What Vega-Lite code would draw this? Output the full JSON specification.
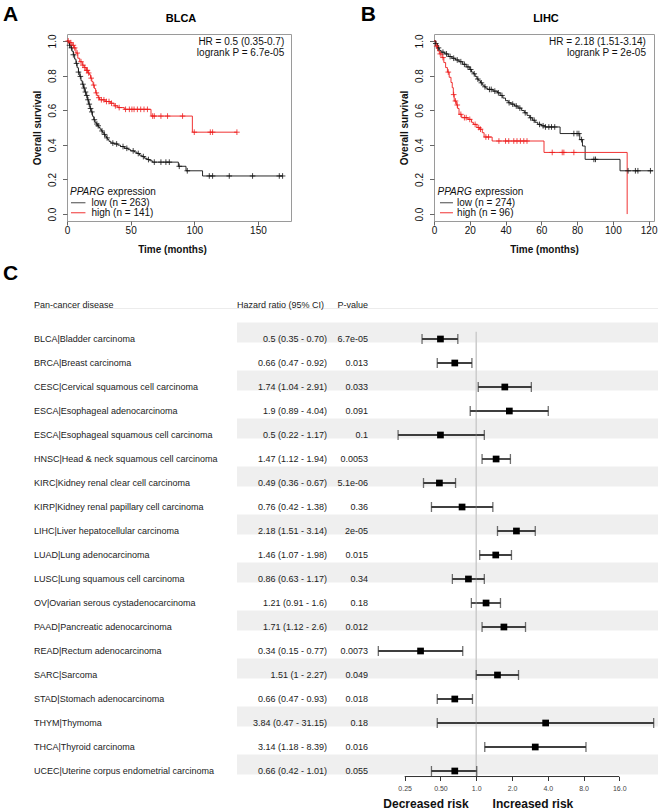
{
  "$schema": "https://vega.github.io/schema/vega-lite/v6.json",
  "background": "white",
  "padding": {"left": 2, "top": 3, "right": 0, "bottom": 0},
  "config": {
    "font": "Liberation Sans",
    "view": {"stroke": null},
    "axis": {"grid": false},
    "text": {"font": "Liberation Sans"}
  },
  "datasets": {
    "km": [
      {"p":"A","g":"low","t":0,"s":1},{"p":"A","g":"low","t":1,"s":0.99},{"p":"A","g":"low","t":2,"s":0.975},{"p":"A","g":"low","t":3,"s":0.96},{"p":"A","g":"low","t":4,"s":0.94},{"p":"A","g":"low","t":5,"s":0.92},{"p":"A","g":"low","t":6,"s":0.895},{"p":"A","g":"low","t":7,"s":0.87},{"p":"A","g":"low","t":8,"s":0.845},{"p":"A","g":"low","t":9,"s":0.82},{"p":"A","g":"low","t":10,"s":0.795},{"p":"A","g":"low","t":11,"s":0.77},{"p":"A","g":"low","t":12,"s":0.75},{"p":"A","g":"low","t":13,"s":0.728},{"p":"A","g":"low","t":14,"s":0.705},{"p":"A","g":"low","t":15,"s":0.685},{"p":"A","g":"low","t":16,"s":0.66},{"p":"A","g":"low","t":17,"s":0.635},{"p":"A","g":"low","t":18,"s":0.61},{"p":"A","g":"low","t":19,"s":0.59},{"p":"A","g":"low","t":20,"s":0.565},{"p":"A","g":"low","t":21,"s":0.545},{"p":"A","g":"low","t":22,"s":0.53},{"p":"A","g":"low","t":23,"s":0.52},{"p":"A","g":"low","t":24,"s":0.51},{"p":"A","g":"low","t":25,"s":0.5},{"p":"A","g":"low","t":26,"s":0.49},{"p":"A","g":"low","t":27,"s":0.48},{"p":"A","g":"low","t":28,"s":0.47},{"p":"A","g":"low","t":29,"s":0.46},{"p":"A","g":"low","t":30,"s":0.45},{"p":"A","g":"low","t":31,"s":0.44},{"p":"A","g":"low","t":32,"s":0.43},{"p":"A","g":"low","t":33,"s":0.42},{"p":"A","g":"low","t":34.5,"s":0.41},{"p":"A","g":"low","t":37,"s":0.405},{"p":"A","g":"low","t":40,"s":0.398},{"p":"A","g":"low","t":42,"s":0.39},{"p":"A","g":"low","t":45,"s":0.38},{"p":"A","g":"low","t":48,"s":0.372},{"p":"A","g":"low","t":50,"s":0.365},{"p":"A","g":"low","t":53,"s":0.358},{"p":"A","g":"low","t":55,"s":0.35},{"p":"A","g":"low","t":57,"s":0.34},{"p":"A","g":"low","t":59,"s":0.332},{"p":"A","g":"low","t":61,"s":0.322},{"p":"A","g":"low","t":63,"s":0.315},{"p":"A","g":"low","t":65,"s":0.308},{"p":"A","g":"low","t":67,"s":0.3},{"p":"A","g":"low","t":87.5,"s":0.276},{"p":"A","g":"low","t":93.5,"s":0.25},{"p":"A","g":"low","t":106.5,"s":0.22},{"p":"A","g":"low","t":169.5,"s":0.22},
      {"p":"A","g":"high","t":0,"s":1},{"p":"A","g":"high","t":2,"s":0.99},{"p":"A","g":"high","t":4,"s":0.975},{"p":"A","g":"high","t":5.5,"s":0.96},{"p":"A","g":"high","t":7,"s":0.93},{"p":"A","g":"high","t":8.5,"s":0.9},{"p":"A","g":"high","t":10,"s":0.88},{"p":"A","g":"high","t":12,"s":0.86},{"p":"A","g":"high","t":13.5,"s":0.846},{"p":"A","g":"high","t":15,"s":0.83},{"p":"A","g":"high","t":16.5,"s":0.815},{"p":"A","g":"high","t":17.5,"s":0.805},{"p":"A","g":"high","t":18.5,"s":0.785},{"p":"A","g":"high","t":19.5,"s":0.765},{"p":"A","g":"high","t":20.5,"s":0.745},{"p":"A","g":"high","t":21.5,"s":0.725},{"p":"A","g":"high","t":22.5,"s":0.7},{"p":"A","g":"high","t":23.5,"s":0.685},{"p":"A","g":"high","t":24.5,"s":0.672},{"p":"A","g":"high","t":25.5,"s":0.66},{"p":"A","g":"high","t":30,"s":0.65},{"p":"A","g":"high","t":34,"s":0.64},{"p":"A","g":"high","t":37,"s":0.625},{"p":"A","g":"high","t":40,"s":0.615},{"p":"A","g":"high","t":45,"s":0.605},{"p":"A","g":"high","t":66,"s":0.566},{"p":"A","g":"high","t":98.5,"s":0.473},{"p":"A","g":"high","t":133.5,"s":0.473},
      {"p":"B","g":"low","t":0,"s":1},{"p":"B","g":"low","t":1,"s":0.985},{"p":"B","g":"low","t":2,"s":0.96},{"p":"B","g":"low","t":3,"s":0.945},{"p":"B","g":"low","t":4,"s":0.935},{"p":"B","g":"low","t":6,"s":0.925},{"p":"B","g":"low","t":8,"s":0.91},{"p":"B","g":"low","t":10,"s":0.9},{"p":"B","g":"low","t":12,"s":0.89},{"p":"B","g":"low","t":14,"s":0.88},{"p":"B","g":"low","t":16,"s":0.865},{"p":"B","g":"low","t":18,"s":0.85},{"p":"B","g":"low","t":20,"s":0.835},{"p":"B","g":"low","t":21,"s":0.82},{"p":"B","g":"low","t":22,"s":0.81},{"p":"B","g":"low","t":23,"s":0.795},{"p":"B","g":"low","t":24,"s":0.78},{"p":"B","g":"low","t":25,"s":0.77},{"p":"B","g":"low","t":26,"s":0.758},{"p":"B","g":"low","t":27,"s":0.745},{"p":"B","g":"low","t":28,"s":0.735},{"p":"B","g":"low","t":29,"s":0.727},{"p":"B","g":"low","t":30,"s":0.72},{"p":"B","g":"low","t":33,"s":0.71},{"p":"B","g":"low","t":35.5,"s":0.7},{"p":"B","g":"low","t":37,"s":0.685},{"p":"B","g":"low","t":38.5,"s":0.67},{"p":"B","g":"low","t":40,"s":0.655},{"p":"B","g":"low","t":41.5,"s":0.643},{"p":"B","g":"low","t":43,"s":0.635},{"p":"B","g":"low","t":45,"s":0.624},{"p":"B","g":"low","t":47,"s":0.612},{"p":"B","g":"low","t":49,"s":0.598},{"p":"B","g":"low","t":50.5,"s":0.585},{"p":"B","g":"low","t":52,"s":0.57},{"p":"B","g":"low","t":53.5,"s":0.556},{"p":"B","g":"low","t":55,"s":0.542},{"p":"B","g":"low","t":56.5,"s":0.53},{"p":"B","g":"low","t":58,"s":0.518},{"p":"B","g":"low","t":60,"s":0.51},{"p":"B","g":"low","t":62,"s":0.503},{"p":"B","g":"low","t":70.5,"s":0.465},{"p":"B","g":"low","t":81.5,"s":0.43},{"p":"B","g":"low","t":83,"s":0.393},{"p":"B","g":"low","t":84.5,"s":0.316},{"p":"B","g":"low","t":104,"s":0.25},{"p":"B","g":"low","t":122.5,"s":0.25},
      {"p":"B","g":"high","t":0,"s":1},{"p":"B","g":"high","t":1,"s":0.97},{"p":"B","g":"high","t":2,"s":0.942},{"p":"B","g":"high","t":3,"s":0.925},{"p":"B","g":"high","t":4.5,"s":0.904},{"p":"B","g":"high","t":5.5,"s":0.875},{"p":"B","g":"high","t":6.5,"s":0.846},{"p":"B","g":"high","t":7.5,"s":0.82},{"p":"B","g":"high","t":8.5,"s":0.79},{"p":"B","g":"high","t":9.5,"s":0.76},{"p":"B","g":"high","t":10.2,"s":0.73},{"p":"B","g":"high","t":10.8,"s":0.69},{"p":"B","g":"high","t":11.3,"s":0.653},{"p":"B","g":"high","t":12.5,"s":0.63},{"p":"B","g":"high","t":13.2,"s":0.61},{"p":"B","g":"high","t":14,"s":0.576},{"p":"B","g":"high","t":15.5,"s":0.557},{"p":"B","g":"high","t":19,"s":0.547},{"p":"B","g":"high","t":21,"s":0.53},{"p":"B","g":"high","t":22,"s":0.518},{"p":"B","g":"high","t":24,"s":0.5},{"p":"B","g":"high","t":25.5,"s":0.49},{"p":"B","g":"high","t":27,"s":0.47},{"p":"B","g":"high","t":28,"s":0.445},{"p":"B","g":"high","t":32.5,"s":0.422},{"p":"B","g":"high","t":61.5,"s":0.356},{"p":"B","g":"high","t":108,"s":0}
    ],
    "cens": [
      {"p":"A","g":"low","t":2,"s":0.975},{"p":"A","g":"low","t":3.5,"s":0.96},{"p":"A","g":"low","t":5,"s":0.92},{"p":"A","g":"low","t":7.5,"s":0.87},{"p":"A","g":"low","t":9,"s":0.82},{"p":"A","g":"low","t":10.5,"s":0.795},{"p":"A","g":"low","t":12.5,"s":0.75},{"p":"A","g":"low","t":13.5,"s":0.728},{"p":"A","g":"low","t":14.5,"s":0.705},{"p":"A","g":"low","t":15.5,"s":0.685},{"p":"A","g":"low","t":16.5,"s":0.66},{"p":"A","g":"low","t":17.5,"s":0.635},{"p":"A","g":"low","t":18.5,"s":0.61},{"p":"A","g":"low","t":19.5,"s":0.59},{"p":"A","g":"low","t":21.5,"s":0.545},{"p":"A","g":"low","t":23.5,"s":0.52},{"p":"A","g":"low","t":24.5,"s":0.51},{"p":"A","g":"low","t":27.5,"s":0.48},{"p":"A","g":"low","t":29.5,"s":0.46},{"p":"A","g":"low","t":31.5,"s":0.44},{"p":"A","g":"low","t":36,"s":0.41},{"p":"A","g":"low","t":39,"s":0.405},{"p":"A","g":"low","t":44,"s":0.39},{"p":"A","g":"low","t":47,"s":0.38},{"p":"A","g":"low","t":52,"s":0.365},{"p":"A","g":"low","t":56,"s":0.35},{"p":"A","g":"low","t":60,"s":0.332},{"p":"A","g":"low","t":64,"s":0.315},{"p":"A","g":"low","t":68.6,"s":0.3},{"p":"A","g":"low","t":73.8,"s":0.3},{"p":"A","g":"low","t":77.7,"s":0.3},{"p":"A","g":"low","t":80.4,"s":0.3},{"p":"A","g":"low","t":88.2,"s":0.276},{"p":"A","g":"low","t":94.5,"s":0.25},{"p":"A","g":"low","t":111.8,"s":0.22},{"p":"A","g":"low","t":114.4,"s":0.22},{"p":"A","g":"low","t":127.5,"s":0.22},{"p":"A","g":"low","t":145.8,"s":0.22},{"p":"A","g":"low","t":166.8,"s":0.22},{"p":"A","g":"low","t":169.4,"s":0.22},
      {"p":"A","g":"high","t":1,"s":1},{"p":"A","g":"high","t":3,"s":0.99},{"p":"A","g":"high","t":5,"s":0.975},{"p":"A","g":"high","t":6,"s":0.96},{"p":"A","g":"high","t":8,"s":0.93},{"p":"A","g":"high","t":11,"s":0.88},{"p":"A","g":"high","t":12.5,"s":0.86},{"p":"A","g":"high","t":14,"s":0.846},{"p":"A","g":"high","t":15.5,"s":0.83},{"p":"A","g":"high","t":16,"s":0.83},{"p":"A","g":"high","t":17,"s":0.815},{"p":"A","g":"high","t":19,"s":0.785},{"p":"A","g":"high","t":21,"s":0.745},{"p":"A","g":"high","t":23,"s":0.7},{"p":"A","g":"high","t":25,"s":0.672},{"p":"A","g":"high","t":27,"s":0.66},{"p":"A","g":"high","t":29,"s":0.66},{"p":"A","g":"high","t":31,"s":0.65},{"p":"A","g":"high","t":33,"s":0.65},{"p":"A","g":"high","t":35,"s":0.64},{"p":"A","g":"high","t":38,"s":0.625},{"p":"A","g":"high","t":41,"s":0.615},{"p":"A","g":"high","t":46,"s":0.605},{"p":"A","g":"high","t":49,"s":0.605},{"p":"A","g":"high","t":51,"s":0.605},{"p":"A","g":"high","t":52.7,"s":0.605},{"p":"A","g":"high","t":55.3,"s":0.605},{"p":"A","g":"high","t":57.9,"s":0.605},{"p":"A","g":"high","t":60.5,"s":0.605},{"p":"A","g":"high","t":63.2,"s":0.605},{"p":"A","g":"high","t":67.3,"s":0.566},{"p":"A","g":"high","t":68.6,"s":0.566},{"p":"A","g":"high","t":73.8,"s":0.566},{"p":"A","g":"high","t":79,"s":0.566},{"p":"A","g":"high","t":90.8,"s":0.566},{"p":"A","g":"high","t":100,"s":0.473},{"p":"A","g":"high","t":112.6,"s":0.473},{"p":"A","g":"high","t":114.4,"s":0.473},{"p":"A","g":"high","t":133.5,"s":0.473},
      {"p":"B","g":"low","t":1,"s":0.985},{"p":"B","g":"low","t":2.5,"s":0.96},{"p":"B","g":"low","t":5,"s":0.935},{"p":"B","g":"low","t":7,"s":0.925},{"p":"B","g":"low","t":9,"s":0.91},{"p":"B","g":"low","t":11,"s":0.9},{"p":"B","g":"low","t":13,"s":0.89},{"p":"B","g":"low","t":15,"s":0.88},{"p":"B","g":"low","t":17,"s":0.865},{"p":"B","g":"low","t":19,"s":0.85},{"p":"B","g":"low","t":20.5,"s":0.835},{"p":"B","g":"low","t":22.5,"s":0.81},{"p":"B","g":"low","t":24.5,"s":0.78},{"p":"B","g":"low","t":26.5,"s":0.758},{"p":"B","g":"low","t":28.5,"s":0.735},{"p":"B","g":"low","t":31,"s":0.72},{"p":"B","g":"low","t":32,"s":0.72},{"p":"B","g":"low","t":34,"s":0.71},{"p":"B","g":"low","t":36,"s":0.7},{"p":"B","g":"low","t":38,"s":0.685},{"p":"B","g":"low","t":42,"s":0.643},{"p":"B","g":"low","t":44,"s":0.635},{"p":"B","g":"low","t":46,"s":0.624},{"p":"B","g":"low","t":48,"s":0.612},{"p":"B","g":"low","t":51,"s":0.585},{"p":"B","g":"low","t":54,"s":0.556},{"p":"B","g":"low","t":56,"s":0.542},{"p":"B","g":"low","t":59,"s":0.518},{"p":"B","g":"low","t":61,"s":0.51},{"p":"B","g":"low","t":62.3,"s":0.503},{"p":"B","g":"low","t":64.2,"s":0.503},{"p":"B","g":"low","t":65.7,"s":0.503},{"p":"B","g":"low","t":67.5,"s":0.503},{"p":"B","g":"low","t":78.2,"s":0.465},{"p":"B","g":"low","t":80,"s":0.465},{"p":"B","g":"low","t":81,"s":0.465},{"p":"B","g":"low","t":82.5,"s":0.43},{"p":"B","g":"low","t":89.4,"s":0.316},{"p":"B","g":"low","t":90.3,"s":0.316},{"p":"B","g":"low","t":108.5,"s":0.25},{"p":"B","g":"low","t":112.6,"s":0.25},{"p":"B","g":"low","t":114,"s":0.25},{"p":"B","g":"low","t":121,"s":0.25},
      {"p":"B","g":"high","t":1.5,"s":0.97},{"p":"B","g":"high","t":3.5,"s":0.925},{"p":"B","g":"high","t":5,"s":0.904},{"p":"B","g":"high","t":8,"s":0.82},{"p":"B","g":"high","t":11,"s":0.69},{"p":"B","g":"high","t":12,"s":0.653},{"p":"B","g":"high","t":13,"s":0.63},{"p":"B","g":"high","t":15,"s":0.576},{"p":"B","g":"high","t":17,"s":0.557},{"p":"B","g":"high","t":18,"s":0.557},{"p":"B","g":"high","t":20,"s":0.547},{"p":"B","g":"high","t":23,"s":0.518},{"p":"B","g":"high","t":25,"s":0.5},{"p":"B","g":"high","t":26,"s":0.49},{"p":"B","g":"high","t":29,"s":0.445},{"p":"B","g":"high","t":30.5,"s":0.445},{"p":"B","g":"high","t":36.3,"s":0.422},{"p":"B","g":"high","t":40,"s":0.422},{"p":"B","g":"high","t":41.8,"s":0.422},{"p":"B","g":"high","t":44.6,"s":0.422},{"p":"B","g":"high","t":46.4,"s":0.422},{"p":"B","g":"high","t":48.3,"s":0.422},{"p":"B","g":"high","t":50.2,"s":0.422},{"p":"B","g":"high","t":52,"s":0.422},{"p":"B","g":"high","t":66.1,"s":0.356},{"p":"B","g":"high","t":71.7,"s":0.356},{"p":"B","g":"high","t":72.6,"s":0.356},{"p":"B","g":"high","t":78.2,"s":0.356}
    ],
    "hr": [
      {"idx":1,"name":"BLCA|Bladder carcinoma","hr":0.5,"lo":0.35,"hi":0.70,"ci":"0.5 (0.35 - 0.70)","pv":"6.7e-05"},
      {"idx":2,"name":"BRCA|Breast carcinoma","hr":0.66,"lo":0.47,"hi":0.92,"ci":"0.66 (0.47 - 0.92)","pv":"0.013"},
      {"idx":3,"name":"CESC|Cervical squamous cell carcinoma","hr":1.74,"lo":1.04,"hi":2.91,"ci":"1.74 (1.04 - 2.91)","pv":"0.033"},
      {"idx":4,"name":"ESCA|Esophageal adenocarcinoma","hr":1.9,"lo":0.89,"hi":4.04,"ci":"1.9 (0.89 - 4.04)","pv":"0.091"},
      {"idx":5,"name":"ESCA|Esophageal squamous cell carcinoma","hr":0.5,"lo":0.22,"hi":1.17,"ci":"0.5 (0.22 - 1.17)","pv":"0.1"},
      {"idx":6,"name":"HNSC|Head & neck squamous cell carcinoma","hr":1.47,"lo":1.12,"hi":1.94,"ci":"1.47 (1.12 - 1.94)","pv":"0.0053"},
      {"idx":7,"name":"KIRC|Kidney renal clear cell carcinoma","hr":0.49,"lo":0.36,"hi":0.67,"ci":"0.49 (0.36 - 0.67)","pv":"5.1e-06"},
      {"idx":8,"name":"KIRP|Kidney renal papillary cell carcinoma","hr":0.76,"lo":0.42,"hi":1.38,"ci":"0.76 (0.42 - 1.38)","pv":"0.36"},
      {"idx":9,"name":"LIHC|Liver hepatocellular carcinoma","hr":2.18,"lo":1.51,"hi":3.14,"ci":"2.18 (1.51 - 3.14)","pv":"2e-05"},
      {"idx":10,"name":"LUAD|Lung adenocarcinoma","hr":1.46,"lo":1.07,"hi":1.98,"ci":"1.46 (1.07 - 1.98)","pv":"0.015"},
      {"idx":11,"name":"LUSC|Lung squamous cell carcinoma","hr":0.86,"lo":0.63,"hi":1.17,"ci":"0.86 (0.63 - 1.17)","pv":"0.34"},
      {"idx":12,"name":"OV|Ovarian serous cystadenocarcinoma","hr":1.21,"lo":0.91,"hi":1.6,"ci":"1.21 (0.91 - 1.6)","pv":"0.18"},
      {"idx":13,"name":"PAAD|Pancreatic adenocarcinoma","hr":1.71,"lo":1.12,"hi":2.6,"ci":"1.71 (1.12 - 2.6)","pv":"0.012"},
      {"idx":14,"name":"READ|Rectum adenocarcinoma","hr":0.34,"lo":0.15,"hi":0.77,"ci":"0.34 (0.15 - 0.77)","pv":"0.0073"},
      {"idx":15,"name":"SARC|Sarcoma","hr":1.51,"lo":1,"hi":2.27,"ci":"1.51 (1 - 2.27)","pv":"0.049"},
      {"idx":16,"name":"STAD|Stomach adenocarcinoma","hr":0.66,"lo":0.47,"hi":0.93,"ci":"0.66 (0.47 - 0.93)","pv":"0.018"},
      {"idx":17,"name":"THYM|Thymoma","hr":3.84,"lo":0.47,"hi":31.15,"ci":"3.84 (0.47 - 31.15)","pv":"0.18"},
      {"idx":18,"name":"THCA|Thyroid carcinoma","hr":3.14,"lo":1.18,"hi":8.39,"ci":"3.14 (1.18 - 8.39)","pv":"0.016"},
      {"idx":19,"name":"UCEC|Uterine corpus endometrial carcinoma","hr":0.66,"lo":0.42,"hi":1.01,"ci":"0.66 (0.42 - 1.01)","pv":"0.055"}
    ]
  },
  "spacing": 7,
  "vconcat": [
    {
      "spacing": 32,
      "bounds": "flush",
      "hconcat": [
        {"width": 1, "height": 187, "data": {"values": [{}]}, "mark": {"type": "text", "text": ""}},
        {
          "spacing": 143,
          "bounds": "flush",
          "hconcat": [
            {
              "width": 224, "height": 187,
              "view": {"stroke": "#9a9a9a", "strokeWidth": 1},
              "layer": [
                {"data": {"name": "km"}, "transform": [{"filter": "datum.p == 'A'"}],
                 "mark": {"type": "line", "interpolate": "step-after", "strokeWidth": 0.9},
                 "encoding": {
                   "x": {"field": "t", "type": "quantitative", "scale": {"domain": [0, 176], "nice": false, "zero": false},
                         "axis": {"values": [0, 50, 100, 150], "tickCount": 20, "title": "Time (months)", "titleFontSize": 10, "titleFontWeight": "bold", "titleColor": "#111", "titlePadding": 8.5, "titleX": 105, "labelFontSize": 10, "labelColor": "#111", "labelPadding": 0.5, "tickSize": 4, "tickColor": "#666", "domain": false, "labelOverlap": false, "labelFlush": false}},
                   "y": {"field": "s", "type": "quantitative", "scale": {"domain": [-0.04, 1.04], "nice": false, "zero": false},
                         "axis": {"values": [0, 0.2, 0.4, 0.6, 0.8, 1], "tickCount": 20, "format": ".1f", "labelAngle": 270, "labelAlign": "center", "labelBaseline": "bottom", "labelFontSize": 10, "labelColor": "#111", "labelPadding": 5, "tickSize": 4.5, "tickColor": "#666", "domain": false, "labelOverlap": false, "labelFlush": false, "title": "Overall survival", "titleFontSize": 10, "titleFontWeight": "bold", "titleColor": "#111", "titlePadding": 5}},
                   "color": {"field": "g", "type": "nominal", "scale": {"domain": ["low", "high"], "range": ["#111111", "#ee1c1c"]}, "legend": null}
                 }},
                {"data": {"name": "cens"}, "transform": [{"filter": "datum.p == 'A'"}],
                 "mark": {"type": "point", "shape": "M-1,0L1,0M0,-1L0,1", "filled": false, "size": 32, "strokeWidth": 0.8, "opacity": 1},
                 "encoding": {
                   "x": {"field": "t", "type": "quantitative"},
                   "y": {"field": "s", "type": "quantitative"},
                   "color": {"field": "g", "type": "nominal", "legend": null}
                 }},
                {"data": {"values": [{}]}, "mark": {"type": "text", "text": "HR = 0.5 (0.35-0.7)", "align": "right", "baseline": "middle", "fontSize": 10, "color": "#111"},
                 "encoding": {"x": {"datum": 170.7, "type": "quantitative"}, "y": {"datum": 0.994, "type": "quantitative"}}},
                {"data": {"values": [{}]}, "mark": {"type": "text", "text": "logrank P = 6.7e-05", "align": "right", "baseline": "middle", "fontSize": 10, "color": "#111"},
                 "encoding": {"x": {"datum": 170.7, "type": "quantitative"}, "y": {"datum": 0.9275, "type": "quantitative"}}},
                {"data": {"values": [{}]}, "mark": {"type": "text", "text": "PPARG", "fontStyle": "italic", "align": "left", "baseline": "middle", "fontSize": 10, "color": "#111"},
                 "encoding": {"x": {"datum": 2.36, "type": "quantitative"}, "y": {"datum": 0.1247, "type": "quantitative"}}},
                {"data": {"values": [{}]}, "mark": {"type": "text", "text": "expression", "align": "left", "baseline": "middle", "fontSize": 10, "dx": 37.5, "color": "#111"},
                 "encoding": {"x": {"datum": 2.36, "type": "quantitative"}, "y": {"datum": 0.1247, "type": "quantitative"}}},
                {"data": {"values": [{}]}, "mark": {"type": "rule", "color": "#333", "strokeWidth": 0.9},
                 "encoding": {"x": {"datum": 3.14, "type": "quantitative"}, "x2": {"datum": 14.5}, "y": {"datum": 0.0653, "type": "quantitative"}}},
                {"data": {"values": [{}]}, "mark": {"type": "rule", "color": "#ee1c1c", "strokeWidth": 0.9},
                 "encoding": {"x": {"datum": 3.14, "type": "quantitative"}, "x2": {"datum": 14.5}, "y": {"datum": 0.0075, "type": "quantitative"}}},
                {"data": {"values": [{}]}, "mark": {"type": "text", "text": "low (n = 263)", "align": "left", "baseline": "middle", "fontSize": 10, "color": "#111"},
                 "encoding": {"x": {"datum": 19.2, "type": "quantitative"}, "y": {"datum": 0.0653, "type": "quantitative"}}},
                {"data": {"values": [{}]}, "mark": {"type": "text", "text": "high (n = 141)", "align": "left", "baseline": "middle", "fontSize": 10, "color": "#111"},
                 "encoding": {"x": {"datum": 19.2, "type": "quantitative"}, "y": {"datum": 0.0075, "type": "quantitative"}}},
                {"data": {"values": [{}]}, "mark": {"type": "text", "text": "BLCA", "align": "center", "baseline": "alphabetic", "fontSize": 11, "fontWeight": "bold", "color": "#000"},
                 "encoding": {"x": {"datum": 89.6, "type": "quantitative"}, "y": {"datum": 1.111, "type": "quantitative"}}},
                {"data": {"values": [{}]}, "mark": {"type": "text", "text": "A", "align": "left", "baseline": "alphabetic", "fontSize": 21, "fontWeight": "bold", "color": "#000"},
                 "encoding": {"x": {"datum": -50.3, "type": "quantitative"}, "y": {"datum": 1.116, "type": "quantitative"}}}
              ]
            },
            {
              "width": 220, "height": 187,
              "view": {"stroke": "#9a9a9a", "strokeWidth": 1},
              "layer": [
                {"data": {"name": "km"}, "transform": [{"filter": "datum.p == 'B'"}],
                 "mark": {"type": "line", "interpolate": "step-after", "strokeWidth": 0.9},
                 "encoding": {
                   "x": {"field": "t", "type": "quantitative", "scale": {"domain": [0, 123], "nice": false, "zero": false},
                         "axis": {"values": [0, 20, 40, 60, 80, 100, 120], "tickCount": 20, "title": "Time (months)", "titleFontSize": 10, "titleFontWeight": "bold", "titleColor": "#111", "titlePadding": 8.5, "labelFontSize": 10, "labelColor": "#111", "labelPadding": 0.5, "tickSize": 4, "tickColor": "#666", "domain": false, "labelOverlap": false, "labelFlush": false}},
                   "y": {"field": "s", "type": "quantitative", "scale": {"domain": [-0.04, 1.04], "nice": false, "zero": false},
                         "axis": {"values": [0, 0.2, 0.4, 0.6, 0.8, 1], "tickCount": 20, "format": ".1f", "labelAngle": 270, "labelAlign": "center", "labelBaseline": "bottom", "labelFontSize": 10, "labelColor": "#111", "labelPadding": 5, "tickSize": 4.5, "tickColor": "#666", "domain": false, "labelOverlap": false, "labelFlush": false, "title": "Overall survival", "titleFontSize": 10, "titleFontWeight": "bold", "titleColor": "#111", "titlePadding": 5}},
                   "color": {"field": "g", "type": "nominal", "scale": {"domain": ["low", "high"], "range": ["#111111", "#ee1c1c"]}, "legend": null}
                 }},
                {"data": {"name": "cens"}, "transform": [{"filter": "datum.p == 'B'"}],
                 "mark": {"type": "point", "shape": "M-1,0L1,0M0,-1L0,1", "filled": false, "size": 32, "strokeWidth": 0.8, "opacity": 1},
                 "encoding": {
                   "x": {"field": "t", "type": "quantitative"},
                   "y": {"field": "s", "type": "quantitative"},
                   "color": {"field": "g", "type": "nominal", "legend": null}
                 }},
                {"data": {"values": [{}]}, "mark": {"type": "text", "text": "HR = 2.18 (1.51-3.14)", "align": "right", "baseline": "middle", "fontSize": 10, "color": "#111"},
                 "encoding": {"x": {"datum": 118.5, "type": "quantitative"}, "y": {"datum": 0.994, "type": "quantitative"}}},
                {"data": {"values": [{}]}, "mark": {"type": "text", "text": "logrank P = 2e-05", "align": "right", "baseline": "middle", "fontSize": 10, "color": "#111"},
                 "encoding": {"x": {"datum": 118.5, "type": "quantitative"}, "y": {"datum": 0.9275, "type": "quantitative"}}},
                {"data": {"values": [{}]}, "mark": {"type": "text", "text": "PPARG", "fontStyle": "italic", "align": "left", "baseline": "middle", "fontSize": 10, "color": "#111"},
                 "encoding": {"x": {"datum": 1.96, "type": "quantitative"}, "y": {"datum": 0.1247, "type": "quantitative"}}},
                {"data": {"values": [{}]}, "mark": {"type": "text", "text": "expression", "align": "left", "baseline": "middle", "fontSize": 10, "dx": 37.5, "color": "#111"},
                 "encoding": {"x": {"datum": 1.96, "type": "quantitative"}, "y": {"datum": 0.1247, "type": "quantitative"}}},
                {"data": {"values": [{}]}, "mark": {"type": "rule", "color": "#333", "strokeWidth": 0.9},
                 "encoding": {"x": {"datum": 3.35, "type": "quantitative"}, "x2": {"datum": 10.6}, "y": {"datum": 0.0653, "type": "quantitative"}}},
                {"data": {"values": [{}]}, "mark": {"type": "rule", "color": "#ee1c1c", "strokeWidth": 0.9},
                 "encoding": {"x": {"datum": 3.35, "type": "quantitative"}, "x2": {"datum": 10.6}, "y": {"datum": 0.0075, "type": "quantitative"}}},
                {"data": {"values": [{}]}, "mark": {"type": "text", "text": "low (n = 274)", "align": "left", "baseline": "middle", "fontSize": 10, "color": "#111"},
                 "encoding": {"x": {"datum": 12.9, "type": "quantitative"}, "y": {"datum": 0.0653, "type": "quantitative"}}},
                {"data": {"values": [{}]}, "mark": {"type": "text", "text": "high (n = 96)", "align": "left", "baseline": "middle", "fontSize": 10, "color": "#111"},
                 "encoding": {"x": {"datum": 12.9, "type": "quantitative"}, "y": {"datum": 0.0075, "type": "quantitative"}}},
                {"data": {"values": [{}]}, "mark": {"type": "text", "text": "LIHC", "align": "center", "baseline": "alphabetic", "fontSize": 11, "fontWeight": "bold", "color": "#000"},
                 "encoding": {"x": {"datum": 62.6, "type": "quantitative"}, "y": {"datum": 1.111, "type": "quantitative"}}},
                {"data": {"values": [{}]}, "mark": {"type": "text", "text": "B", "align": "left", "baseline": "alphabetic", "fontSize": 21, "fontWeight": "bold", "color": "#000"},
                 "encoding": {"x": {"datum": -41, "type": "quantitative"}, "y": {"datum": 1.116, "type": "quantitative"}}}
              ]
            }
          ]
        }
      ]
    },
    {
      "spacing": 0,
      "bounds": "flush",
      "hconcat": [
        {
          "width": 203, "height": 456,
          "layer": [
            {"data": {"values": [{}]},
             "mark": {"type": "rule", "color": "#ececec", "strokeWidth": 1},
             "encoding": {
               "y": {"datum": -0.27, "type": "quantitative", "scale": {"domain": [0.5, 19.5], "reverse": true, "nice": false, "zero": false}, "axis": null}
             }},
            {"data": {"name": "hr"},
             "mark": {"type": "text", "align": "left", "baseline": "middle", "fontSize": 9, "color": "#222"},
             "encoding": {
               "x": {"datum": 0, "type": "quantitative", "scale": {"domain": [0, 1], "nice": false, "zero": false}, "axis": null},
               "y": {"field": "idx", "type": "quantitative", "axis": null},
               "text": {"field": "name"}
             }},
            {"data": {"values": [{}]},
             "mark": {"type": "text", "text": "Pan-cancer disease", "align": "left", "baseline": "middle", "fontSize": 9, "color": "#222"},
             "encoding": {
               "x": {"datum": 0, "type": "quantitative", "axis": null},
               "y": {"datum": -0.425, "type": "quantitative", "axis": null}
             }},
            {"data": {"values": [{}]},
             "mark": {"type": "text", "text": "C", "align": "left", "baseline": "alphabetic", "fontSize": 21, "fontWeight": "bold", "color": "#000"},
             "encoding": {
               "x": {"datum": -0.1527, "type": "quantitative", "axis": null},
               "y": {"datum": -1.479, "type": "quantitative", "axis": null}
             }}
          ]
        },
        {
          "width": 90, "height": 456,
          "data": {"name": "hr"},
          "layer": [
            {"transform": [{"filter": "datum.idx % 2 == 1"}],
             "mark": {"type": "rect", "color": "#efefef", "yOffset": -16.5, "y2Offset": 3.5},
             "encoding": {
               "y": {"field": "idx", "type": "quantitative", "scale": {"domain": [0.5, 19.5], "reverse": true, "nice": false, "zero": false}, "axis": null},
               "y2": {"field": "idx"}
             }},
            {"data": {"values": [{}]},
             "mark": {"type": "rule", "color": "#ececec", "strokeWidth": 1},
             "encoding": {"y": {"datum": -0.27, "type": "quantitative", "axis": null}}},
            {"mark": {"type": "text", "align": "right", "baseline": "middle", "fontSize": 9, "color": "#222"},
             "encoding": {
               "x": {"datum": 1, "type": "quantitative", "scale": {"domain": [0, 1], "nice": false, "zero": false}, "axis": null},
               "y": {"field": "idx", "type": "quantitative", "axis": null},
               "text": {"field": "ci"}
             }},
            {"data": {"values": [{}]},
             "mark": {"type": "text", "text": "Hazard ratio (95% CI)", "align": "left", "baseline": "middle", "fontSize": 9, "color": "#222"},
             "encoding": {
               "x": {"datum": 0, "type": "quantitative", "axis": null},
               "y": {"datum": -0.425, "type": "quantitative", "axis": null}
             }}
          ]
        },
        {
          "width": 41, "height": 456,
          "data": {"name": "hr"},
          "layer": [
            {"transform": [{"filter": "datum.idx % 2 == 1"}],
             "mark": {"type": "rect", "color": "#efefef", "yOffset": -16.5, "y2Offset": 3.5},
             "encoding": {
               "y": {"field": "idx", "type": "quantitative", "scale": {"domain": [0.5, 19.5], "reverse": true, "nice": false, "zero": false}, "axis": null},
               "y2": {"field": "idx"}
             }},
            {"data": {"values": [{}]},
             "mark": {"type": "rule", "color": "#ececec", "strokeWidth": 1},
             "encoding": {"y": {"datum": -0.27, "type": "quantitative", "axis": null}}},
            {"mark": {"type": "text", "align": "right", "baseline": "middle", "fontSize": 9, "color": "#222"},
             "encoding": {
               "x": {"datum": 1, "type": "quantitative", "scale": {"domain": [0, 1], "nice": false, "zero": false}, "axis": null},
               "y": {"field": "idx", "type": "quantitative", "axis": null},
               "text": {"field": "pv"}
             }},
            {"data": {"values": [{}]},
             "mark": {"type": "text", "text": "P-value", "align": "right", "baseline": "middle", "fontSize": 9, "color": "#222"},
             "encoding": {
               "x": {"datum": 1, "type": "quantitative", "axis": null},
               "y": {"datum": -0.425, "type": "quantitative", "axis": null}
             }}
          ]
        },
        {
          "width": 291, "height": 456,
          "data": {"name": "hr"},
          "layer": [
            {"transform": [{"filter": "datum.idx % 2 == 1"}],
             "mark": {"type": "rect", "color": "#efefef", "yOffset": -16.5, "y2Offset": 3.5},
             "encoding": {
               "y": {"field": "idx", "type": "quantitative", "scale": {"domain": [0.5, 19.5], "reverse": true, "nice": false, "zero": false}, "axis": null},
               "y2": {"field": "idx"}
             }},
            {"mark": {"type": "rule", "color": "#333", "strokeWidth": 1.3},
             "encoding": {
               "x": {"field": "lo", "type": "quantitative", "scale": {"type": "log", "domain": [0.1228, 34.54], "nice": false},
                     "axis": {"values": [0.25, 0.5, 1, 2, 4, 8, 16], "tickCount": 20, "labelExpr": "datum.value < 1 ? format(datum.value, '.2f') : format(datum.value, '.1f')", "title": null, "domain": false, "tickSize": 4, "tickColor": "#333", "labelFontSize": 7, "labelColor": "#444", "labelPadding": 4, "offset": -6.5, "labelOverlap": false, "labelFlush": false}},
               "x2": {"field": "hi"},
               "y": {"field": "idx", "type": "quantitative", "axis": null}
             }},
            {"data": {"values": [{}]},
             "mark": {"type": "rule", "color": "#ececec", "strokeWidth": 1},
             "encoding": {"y": {"datum": -0.27, "type": "quantitative", "axis": null}}},
            {"data": {"values": [{}]},
             "mark": {"type": "rule", "color": "#cccccc", "strokeWidth": 1.5},
             "encoding": {
               "x": {"datum": 1, "type": "quantitative"},
               "y": {"datum": 0.7, "type": "quantitative", "axis": null},
               "y2": {"datum": 19.23}
             }},
            {"data": {"values": [{}]},
             "mark": {"type": "rule", "color": "#333", "strokeWidth": 1},
             "encoding": {
               "x": {"datum": 0.25, "type": "quantitative"},
               "x2": {"datum": 16},
               "y": {"datum": 19.23, "type": "quantitative", "axis": null}
             }},
            {"mark": {"type": "rule", "color": "#333", "strokeWidth": 1.3},
             "encoding": {
               "x": {"field": "lo", "type": "quantitative"},
               "x2": {"field": "hi"},
               "y": {"field": "idx", "type": "quantitative", "axis": null}
             }},
            {"mark": {"type": "tick", "orient": "vertical", "color": "#333", "size": 10, "thickness": 1.3},
             "encoding": {
               "x": {"field": "lo", "type": "quantitative"},
               "y": {"field": "idx", "type": "quantitative", "axis": null}
             }},
            {"mark": {"type": "tick", "orient": "vertical", "color": "#333", "size": 10, "thickness": 1.3},
             "encoding": {
               "x": {"field": "hi", "type": "quantitative"},
               "y": {"field": "idx", "type": "quantitative", "axis": null}
             }},
            {"mark": {"type": "point", "shape": "square", "filled": true, "color": "#000", "size": 45, "opacity": 1},
             "encoding": {
               "x": {"field": "hr", "type": "quantitative"},
               "y": {"field": "idx", "type": "quantitative", "axis": null}
             }},
            {"data": {"values": [{}]},
             "mark": {"type": "text", "text": "Decreased risk", "align": "center", "baseline": "alphabetic", "fontSize": 12, "fontWeight": "bold", "color": "#111"},
             "encoding": {
               "x": {"datum": 0.378, "type": "quantitative"},
               "y": {"datum": 20.54, "type": "quantitative", "axis": null}
             }},
            {"data": {"values": [{}]},
             "mark": {"type": "text", "text": "Increased risk", "align": "center", "baseline": "alphabetic", "fontSize": 12, "fontWeight": "bold", "color": "#111"},
             "encoding": {
               "x": {"datum": 3.0, "type": "quantitative"},
               "y": {"datum": 20.54, "type": "quantitative", "axis": null}
             }}
          ]
        }
      ]
    }
  ]
}
